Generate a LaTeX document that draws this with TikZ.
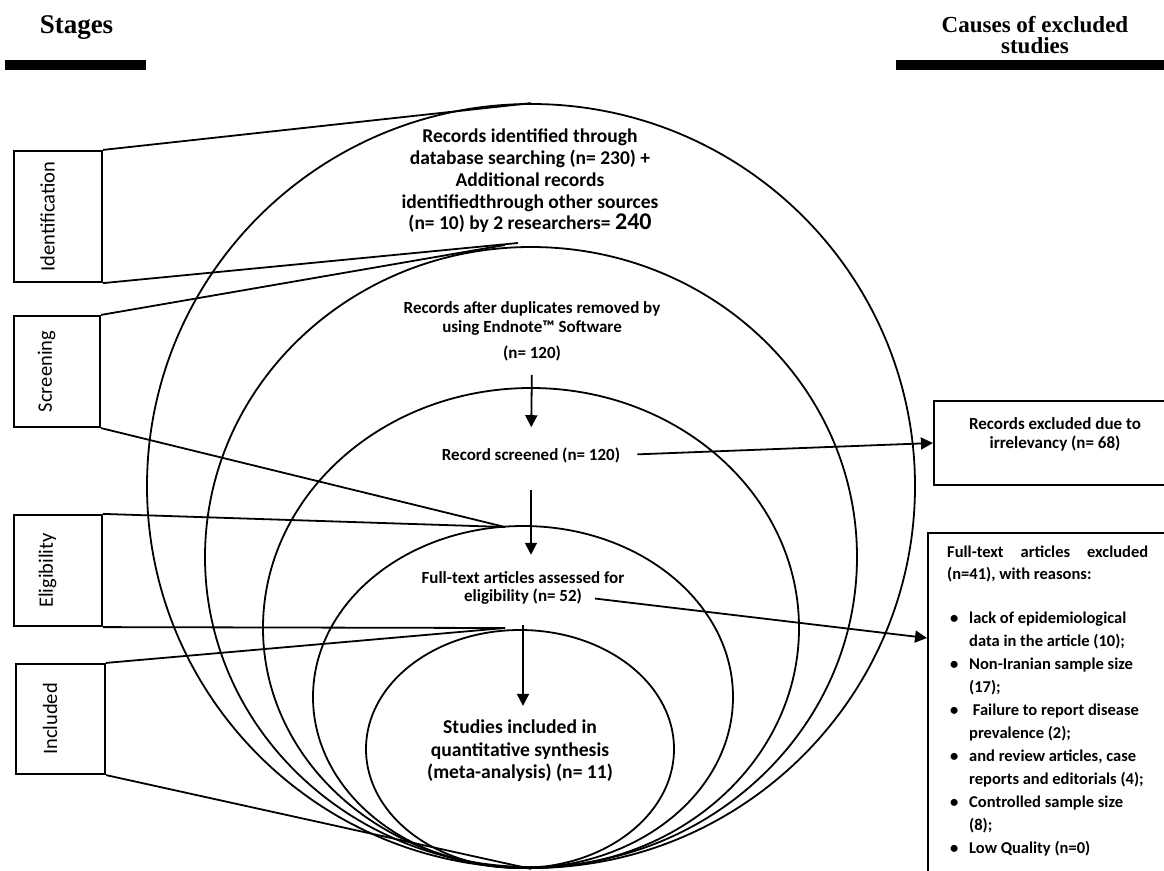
\documentclass[tikz,border=0pt]{standalone}
\usepackage{fontspec}
\setmainfont{Carlito}
\newfontfamily\headfont{Liberation Serif}
\usepackage{tikz}
\usetikzlibrary{arrows.meta,shapes.geometric}

\begin{document}
\begin{tikzpicture}[x=1pt,y=-1pt,
  ring/.style={draw, ellipse, line width=1.8pt, inner sep=0pt},
  stagebox/.style={draw, line width=2.2pt, inner sep=0pt, font=\fontsize{20.5}{20.5}\selectfont},
  txt/.style={inner sep=0pt, align=center, font=\bfseries\fontsize{17}{19}\selectfont},
  exbox/.style={draw, line width=2.2pt, inner sep=0pt},
  link/.style={line width=1.8pt},
  arr/.style={line width=1.8pt, -{Triangle[length=12pt,width=12pt]}}]
\useasboundingbox (0,0) rectangle (1164,870);

% headings
\node[font=\headfont\bfseries\fontsize{27}{27}\selectfont, anchor=base] (stages) at (76.5,33) {Stages};
\node[font=\headfont\bfseries\fontsize{23}{21}\selectfont, align=center, anchor=north, inner sep=0pt] (causes) at (1035,16) {Causes of excluded\\studies};
\fill (5,60) rectangle (146,70); % bar under Stages
\fill (896,60) rectangle (1164,70); % bar under Causes

% nested ellipses
\node[ring, minimum width=768pt, minimum height=764pt] (e1) at (531,486) {};
\node[ring, minimum width=652pt, minimum height=620pt] (e2) at (531,557) {};
\node[ring, minimum width=536pt, minimum height=480pt] (e3) at (531,628) {};
\node[ring, minimum width=420pt, minimum height=342pt] (e4) at (523,697) {};
\node[ring, minimum width=308pt, minimum height=238pt] (e5) at (520,749) {};

% texts inside
\node[txt, font=\bfseries\fontsize{19.5}{21.7}\selectfont] (ident) at (530,181) {Records identified through\\database searching (n= 230) +\\Additional records\\identifiedthrough other sources\\(n= 10) by 2 researchers= {\fontsize{24}{21.7}\selectfont 240}};
\node[txt] (dup) at (532,331) {Records after duplicates removed by\\using Endnote™ Software\\[7pt](n= 120)};
\node[txt] (screened) at (531,455) {Record screened (n= 120)};
\node[txt] (assess) at (523,578) {Full-text articles assessed for};
\node[txt] (assessn) at (523,597) {eligibility (n= 52)};
\node[txt, font=\bfseries\fontsize{19.6}{22.5}\selectfont] (studies) at (520,751) {Studies included in\\quantitative synthesis\\(meta-analysis) (n= 11)};

% flow arrows
\draw[arr, shorten <=14pt, shorten >=20pt] (dup.south) -- (screened.north);
\draw[arr, shorten <=27pt, shorten >=17pt] (screened.south) -- (screened.south |- assess.north);
\draw[arr, shorten <=20pt, shorten >=14pt] (assessn.south) -- (assessn.south |- studies.north);

% stage boxes
\node[stagebox, minimum width=88pt, minimum height=131pt] (idbox) at (58,216.5) {\rotatebox{90}{Identification}\kern21pt};
\node[stagebox, minimum width=86pt, minimum height=111pt] (scrbox) at (57,371.5) {\rotatebox{90}{Screening}\kern21pt};
\node[stagebox, minimum width=88pt, minimum height=111pt] (eligbox) at (58,570.5) {\rotatebox{90}{Eligibility}\kern21pt};
\node[stagebox, minimum width=89pt, minimum height=110pt] (inclbox) at (60.5,719) {\rotatebox{90}{Included}\kern21pt};

\coordinate (j1) at (518,243);
\coordinate (j2) at (505,245);
\coordinate (j3) at (505,527);
\coordinate (j4) at (505,628);
\draw[link] (idbox.north east) -- (e1.north);
\draw[link] (idbox.south east) -- (j1);
\draw[link] (scrbox.north east) -- (j2);
\draw[link] (scrbox.south east) -- (j3);
\draw[link] (eligbox.north east) -- (j3);
\draw[link] (eligbox.south east) -- (j4);
\draw[link] (inclbox.north east) -- (j4);
\draw[link] (inclbox.south east) -- (e1.south);

% excluded records
\node[exbox, minimum width=242pt, minimum height=84pt] (excl1) at (1055,443) {};
\node[txt] (excl1t) at (1055,434) {Records excluded due to\\irrelevancy (n= 68)};
\draw[arr, shorten <=17pt] (screened.east) -- (excl1.west);

\node[exbox, anchor=north west, minimum width=260pt, minimum height=360pt] (excl2) at (927,532) {};
\node[anchor=north west, inner sep=0pt, align=left, font=\bfseries\fontsize{16.5}{23}\selectfont] (reasons) at ([xshift=20pt,yshift=-14pt]excl2.north west) {%
\makebox[201pt][s]{Full-text articles excluded}\\[-1pt]
(n=41), with reasons:\\[21pt]
\hspace*{3pt}\makebox[19pt][l]{•}lack of epidemiological\\
\hspace*{22pt}data in the article (10);\\
\hspace*{3pt}\makebox[19pt][l]{•}Non-Iranian sample size\\
\hspace*{22pt}(17);\\
\hspace*{3pt}\makebox[19pt][l]{•}\ Failure to report disease\\
\hspace*{22pt}prevalence (2);\\
\hspace*{3pt}\makebox[19pt][l]{•}and review articles, case\\
\hspace*{22pt}reports and editorials (4);\\
\hspace*{3pt}\makebox[19pt][l]{•}Controlled sample size\\
\hspace*{22pt}(8);\\
\hspace*{3pt}\makebox[19pt][l]{•}Low Quality (n=0)};
\coordinate (x2in) at (927,638);
\draw[arr, shorten <=13pt] (assessn.east) -- (x2in);
\end{tikzpicture}
\end{document}
